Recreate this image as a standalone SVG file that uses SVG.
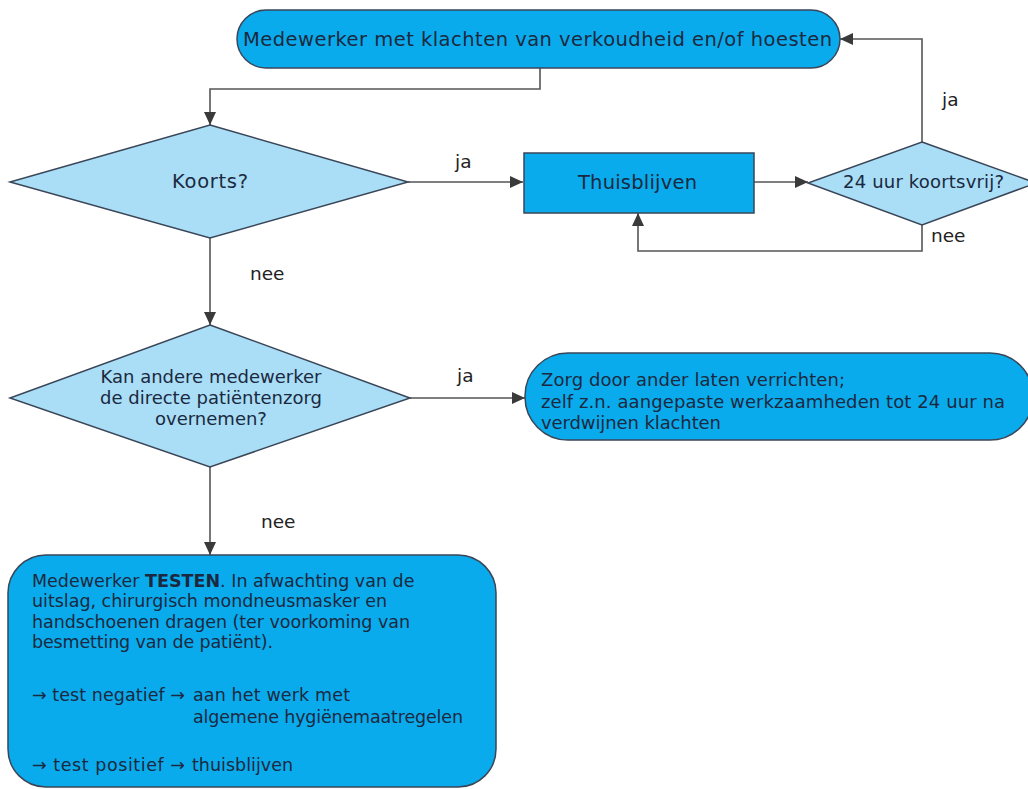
<svg xmlns="http://www.w3.org/2000/svg" width="1028" height="789" viewBox="0 0 1028 789">
<defs>
<style>
.dark{fill:#0aabec;stroke:#3a4658;stroke-width:1.5}
.light{fill:#a9def6;stroke:#3a4658;stroke-width:1.5}
.t{font-family:"DejaVu Sans",Verdana,sans-serif;fill:#1b2940;font-size:18px}
.big{font-size:19.5px}
.c{text-anchor:middle}
.lbl{font-family:"DejaVu Sans",Verdana,sans-serif;fill:#222;font-size:18.5px}
.b{font-family:"DejaVu Sans",Verdana,sans-serif;fill:#1b2940;font-size:17.5px}
.conn{fill:none;stroke:#555;stroke-width:1.6}
</style>
<marker id="arr" markerUnits="userSpaceOnUse" markerWidth="14" markerHeight="12" refX="13" refY="6" orient="auto">
<path d="M0,0 L13,6 L0,12 z" fill="#3a3a3a"/>
</marker>
</defs>
<rect width="1028" height="789" fill="#ffffff"/>

<g id="connectors">
<path class="conn" d="M540,68 V89 H210 V125" marker-end="url(#arr)"/>
<path class="conn" d="M408,182 H523" marker-end="url(#arr)"/>
<path class="conn" d="M754,182 H808" marker-end="url(#arr)"/>
<path class="conn" d="M922,142 V39 H840" marker-end="url(#arr)"/>
<path class="conn" d="M922,225 V251 H638 V213" marker-end="url(#arr)"/>
<path class="conn" d="M210,238 V325" marker-end="url(#arr)"/>
<path class="conn" d="M410,398 H525" marker-end="url(#arr)"/>
<path class="conn" d="M210,467 V555" marker-end="url(#arr)"/>
<text class="lbl" x="455" y="168">ja</text>
<text class="lbl" x="942" y="106">ja</text>
<text class="lbl" x="931" y="242">nee</text>
<text class="lbl" x="250" y="280">nee</text>
<text class="lbl" x="457" y="382">ja</text>
<text class="lbl" x="261" y="528">nee</text>
</g>

<g id="start">
<rect class="dark" x="237" y="10" width="603" height="58" rx="29"/>
<text class="t big" x="243" y="46" textLength="589" lengthAdjust="spacing">Medewerker met klachten van verkoudheid en/of hoesten</text>
</g>

<g id="koorts">
<polygon class="light" points="210,125 408,182 210,238 10,182"/>
<text class="t big" x="172" y="188" textLength="76" lengthAdjust="spacing">Koorts?</text>
</g>

<g id="thuisblijven">
<rect class="dark" x="524" y="153" width="230" height="60"/>
<text class="t big" x="578" y="189" textLength="119" lengthAdjust="spacing">Thuisblijven</text>
</g>

<g id="koortsvrij">
<polygon class="light" points="922,142 1036,183 922,225 808,183"/>
<text class="t" x="843" y="188" textLength="161" lengthAdjust="spacing">24 uur koortsvrij?</text>
</g>

<g id="overnemen">
<polygon class="light" points="210,325 410,398 210,467 10,398"/>
<text class="t c" x="211" y="383">Kan andere medewerker</text>
<text class="t c" x="211" y="404">de directe patiëntenzorg</text>
<text class="t c" x="211" y="425">overnemen?</text>
</g>

<g id="zorg">
<rect class="dark" x="525" y="353" width="508" height="87" rx="43"/>
<text class="t" x="541" y="386" textLength="304" lengthAdjust="spacing">Zorg door ander laten verrichten;</text>
<text class="t" x="541" y="408" textLength="464" lengthAdjust="spacing">zelf z.n. aangepaste werkzaamheden tot 24 uur na</text>
<text class="t" x="541" y="429" textLength="180" lengthAdjust="spacing">verdwijnen klachten</text>
</g>

<g id="testen">
<rect class="dark" x="8" y="555" width="488" height="232" rx="38"/>
<text class="b" x="32" y="587">Medewerker <tspan font-weight="bold">TESTEN</tspan>. In afwachting van de</text>
<text class="b" x="32" y="607" textLength="355" lengthAdjust="spacing">uitslag, chirurgisch mondneusmasker en</text>
<text class="b" x="32" y="628" textLength="378" lengthAdjust="spacing">handschoenen dragen (ter voorkoming van</text>
<text class="b" x="32" y="648" textLength="241" lengthAdjust="spacing">besmetting van de patiënt).</text>
<text class="b" x="32" y="701" textLength="153" lengthAdjust="spacing">→ test negatief →</text>
<text class="b" x="193" y="701" textLength="157" lengthAdjust="spacing">aan het werk met</text>
<text class="b" x="193" y="723" textLength="270" lengthAdjust="spacing">algemene hygiënemaatregelen</text>
<text class="b" x="32" y="771" textLength="153" lengthAdjust="spacing">→ test positief →</text>
<text class="b" x="192" y="771" textLength="101" lengthAdjust="spacing">thuisblijven</text>
</g>
</svg>
